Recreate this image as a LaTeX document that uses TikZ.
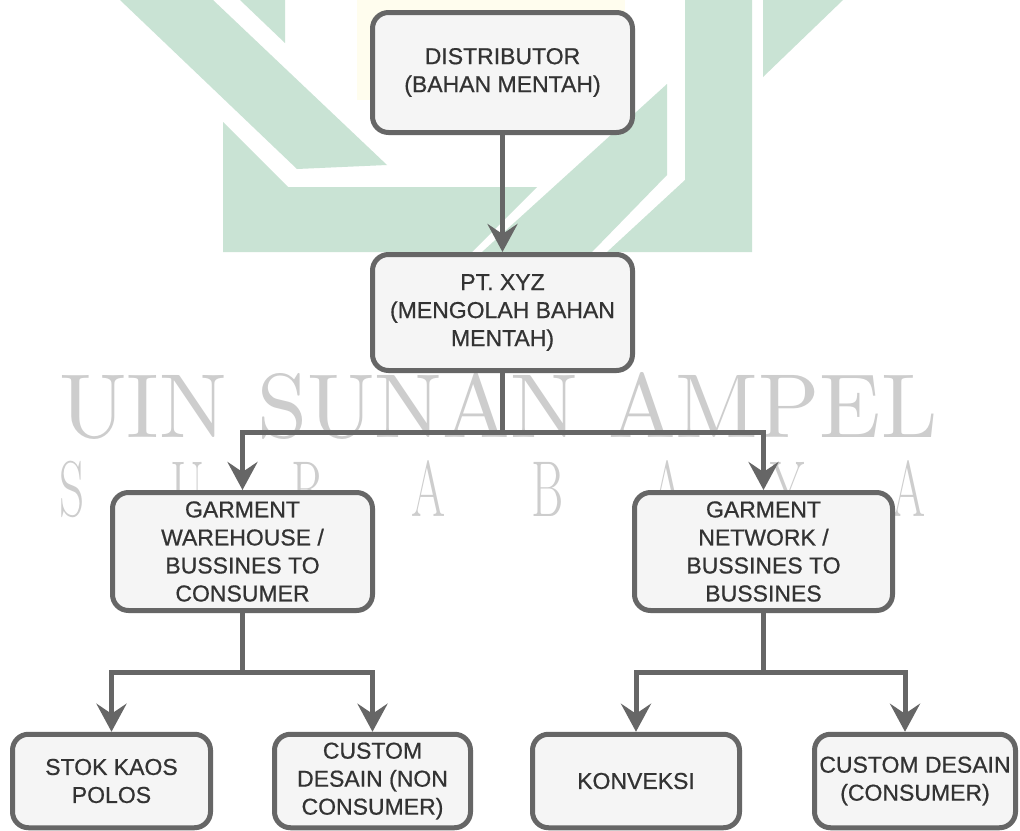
\documentclass[tikz,border=0pt]{standalone}
\usepackage{fontspec}
\usepackage{graphicx}
\newfontfamily\lbl{Liberation Sans}[FakeBold=0.7]
\usetikzlibrary{arrows.meta}
\definecolor{edgegray}{HTML}{666666}
\definecolor{boxfill}{HTML}{F5F5F5}
\definecolor{txt}{HTML}{333333}
\definecolor{wmgray}{HTML}{CDCDCD}
\definecolor{logogreen}{RGB}{201,227,212}
\definecolor{logoyellow}{RGB}{255,253,238}
\tikzset{
  box/.style={draw=edgegray, line width=5pt, fill=boxfill, rounded corners=16pt,
    align=center, text=txt, font=\lbl\fontsize{23}{28}\selectfont, inner sep=0pt},
  conn/.style={draw=edgegray, line width=5pt, -{Stealth[length=28pt,width=30pt,inset=10pt]}},
  plainconn/.style={draw=edgegray, line width=5pt},
  wm/.style={text=wmgray, inner sep=0pt, anchor=south west},
  logo/.style={fill=logogreen, draw=none},
}
\begin{document}
\begin{tikzpicture}[x=1pt,y=-1pt]
\useasboundingbox (0,0) rectangle (1020,830);
\fill[white] (0,0) rectangle (1020,830);
% watermark logo
\fill[logoyellow] (357,0) rectangle (625,100);
\fill[logo] (120,0) -- (213,0) -- (387,165) -- (297,169) -- cycle;
\fill[logo] (240,0) -- (285,0) -- (285,43) -- cycle;
\fill[logo] (223,122) -- (288,187) -- (537,187) -- (472,252) -- (223,252) -- cycle;
\fill[logo] (482,252) -- (667,84) -- (667,175) -- (592,252) -- cycle;
\fill[logo] (685,0) -- (752,0) -- (752,252) -- (607,252) -- (685,180) -- cycle;
\fill[logo] (763,0) -- (843,0) -- (763,77) -- cycle;
% watermark text
\node[wm] (wm1) at (59,440) {\resizebox{878pt}{65pt}{UIN SUNAN AMPEL}};
\node[wm] (wm2) at (59,518) {\resizebox{866pt}{56pt}{\fontsize{82}{82}\selectfont\makebox[1443pt][s]{S U R A B A Y A}}};
% nodes
\node[box, minimum width=260pt, minimum height=120pt] (dist) at (502.5,72.5) {DISTRIBUTOR\\(BAHAN MENTAH)};
\node[box, minimum width=260pt, minimum height=116pt] (pt) at (502.5,312.5) {PT. XYZ\\(MENGOLAH BAHAN\\MENTAH)};
\node[box, minimum width=260pt, minimum height=118pt] (gw) at (242.5,551.5) {GARMENT\\WAREHOUSE /\\BUSSINES TO\\CONSUMER};
\node[box, minimum width=258pt, minimum height=118pt] (gn) at (763.5,551.5) {GARMENT\\NETWORK /\\BUSSINES TO\\BUSSINES};
\node[box, minimum width=198pt, minimum height=93.5pt] (stok) at (111.5,781) {STOK KAOS\\POLOS};
\node[box, minimum width=196pt, minimum height=93.5pt] (cdn) at (372.5,781) {CUSTOM\\DESAIN (NON\\CONSUMER)};
\node[box, minimum width=207pt, minimum height=93.5pt] (kon) at (636,781) {KONVEKSI};
\node[box, minimum width=201pt, minimum height=93.5pt] (cdc) at (915,781) {CUSTOM DESAIN\\(CONSUMER)};
% connectors
\coordinate (b1) at (502.5,432);
\coordinate (b2) at (242.5,672);
\coordinate (b3) at (763.5,672);
\draw[conn] (dist) -- (pt);
\draw[plainconn] (pt.south) -- (b1);
\draw[conn] (b1) -| (gw.north);
\draw[conn] (b1) -| (gn.north);
\draw[plainconn] (gw.south) -- (b2);
\draw[conn] (b2) -| (stok.north);
\draw[conn] (b2) -| (cdn.north);
\draw[plainconn] (gn.south) -- (b3);
\draw[conn] (b3) -| (kon.north);
\draw[conn] (b3) -| ([xshift=-10pt]cdc.north);
\end{tikzpicture}
\end{document}
